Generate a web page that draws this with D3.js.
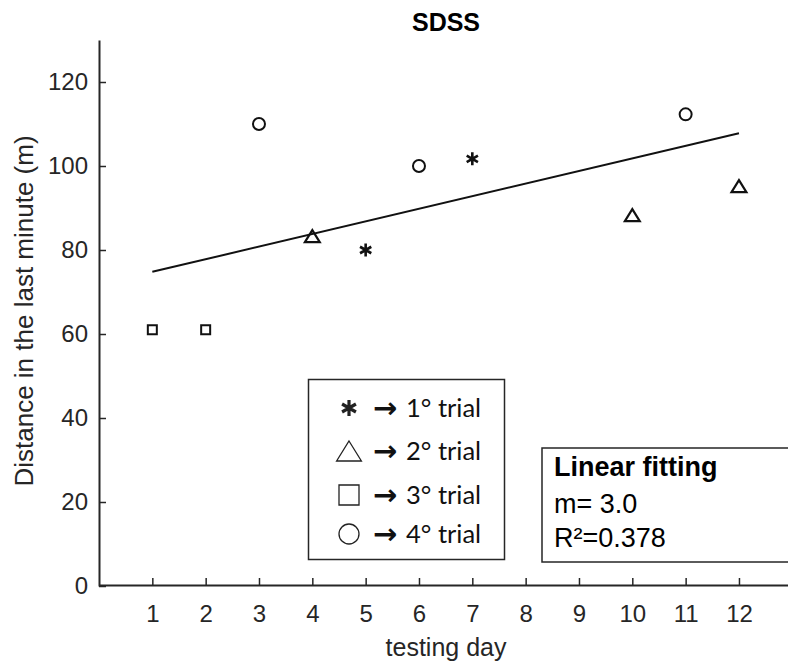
<!DOCTYPE html>
<html>
<head>
<meta charset="utf-8">
<script src="https://cdn.jsdelivr.net/npm/d3@7"></script>
<style>
  html, body { margin: 0; padding: 0; background: #fff; }
  svg { display: block; }
</style>
</head>
<body>
<svg id="chart" width="788" height="666"></svg>
<script>
// ---- data ----
const title = "SDSS";
const xLabel = "testing day";
const yLabel = "Distance in the last minute (m)";
const xTicks = [1, 2, 3, 4, 5, 6, 7, 8, 9, 10, 11, 12];
const yTicks = [0, 20, 40, 60, 80, 100, 120];

const trial1Days = [5, 7];
const trial1Dist = [80, 101.7];
const trial2Days = [4, 10, 12];
const trial2Dist = [83.3, 88.3, 95.2];
const trial3Days = [1, 2];
const trial3Dist = [61, 61];
const trial4Days = [3, 6, 11];
const trial4Dist = [110, 100, 112.3];

const fitSlope = 3.0;
const fitIntercept = 71.8;
const fitRange = [1, 12];

const legendLabels = ["1° trial", "2° trial", "3° trial", "4° trial"];
const legendShapes = ["star", "triangle", "square", "circle"];
const fitLines = ["Linear fitting", "m= 3.0", "R²=0.378"];

// ---- setup ----
const svg = d3.select("#chart");
const FONT = "'Liberation Sans', Arial, sans-serif";
const AX = "#262626";

const x = d3.scaleLinear().domain([0, 13]).range([99, 792.3]);
const y = d3.scaleLinear().domain([0, 130]).range([586, 40]);

// marker path generators (shape only, centred at 0,0)
function shapePath(shape, s) {
  const p = d3.path();
  if (shape === "circle") {
    p.arc(0, 0, s * 0.5, 0, 2 * Math.PI);
  } else if (shape === "square") {
    const h = s * 0.5;
    p.rect(-h, -h, s, s);
  } else if (shape === "triangle") {
    const w = s * 0.62, hh = s * 0.5;
    p.moveTo(0, -hh); p.lineTo(w, hh); p.lineTo(-w, hh); p.closePath();
  } else if (shape === "star") {
    const r = s * 0.5;
    for (let k = 0; k < 3; k++) {
      const a = Math.PI / 2 + k * Math.PI / 3;
      p.moveTo(r * Math.cos(a), r * Math.sin(a));
      p.lineTo(-r * Math.cos(a), -r * Math.sin(a));
    }
  }
  return p.toString();
}

// ---- axes ----
const gx = svg.append("g")
  .attr("transform", `translate(0,${y(0) - 1})`)
  .call(d3.axisBottom(x).tickValues(xTicks).tickSizeInner(-7).tickSizeOuter(0).tickPadding(20));
const gy = svg.append("g")
  .attr("transform", `translate(${x(0)},0)`)
  .call(d3.axisLeft(y).tickValues(yTicks).tickSizeInner(-7).tickSizeOuter(0).tickPadding(11));

[gx, gy].forEach(g => {
  g.select(".domain").attr("stroke", AX).attr("stroke-width", 2);
  g.selectAll(".tick line").attr("stroke", AX).attr("stroke-width", 1.5);
  g.selectAll(".tick text").attr("fill", AX).style("font-family", FONT).style("font-size", "24px");
});
gx.select(".domain").attr("d", `M${x(0)},0.5H${x(13) + 10}`);

// axis labels & title
svg.append("text")
  .attr("x", 446).attr("y", 656)
  .attr("text-anchor", "middle")
  .attr("fill", AX)
  .style("font-family", FONT).style("font-size", "25px")
  .text(xLabel);

svg.append("text")
  .attr("transform", "translate(33,311) rotate(-90)")
  .attr("text-anchor", "middle")
  .attr("fill", AX)
  .style("font-family", FONT).style("font-size", "26px")
  .text(yLabel);

svg.append("text")
  .attr("x", 446).attr("y", 31)
  .attr("text-anchor", "middle")
  .attr("fill", "#000")
  .style("font-family", FONT).style("font-size", "25px").style("font-weight", "bold")
  .text(title);

// ---- fit line ----
const fitLine = d3.line().x(d => x(d)).y(d => y(fitIntercept + fitSlope * d));
svg.append("path")
  .attr("d", fitLine(fitRange))
  .attr("fill", "none").attr("stroke", "#111").attr("stroke-width", 2);

// ---- points ----
const series = [
  { shape: "star", days: trial1Days, dist: trial1Dist, size: 13, sw: 2.6 },
  { shape: "triangle", days: trial2Days, dist: trial2Dist, size: 12, sw: 2.2 },
  { shape: "square", days: trial3Days, dist: trial3Dist, size: 9, sw: 2 },
  { shape: "circle", days: trial4Days, dist: trial4Dist, size: 12, sw: 2 }
];
series.forEach(s => {
  svg.append("g").selectAll("path")
    .data(s.days.map((d, i) => [d, s.dist[i]]))
    .join("path")
    .attr("transform", d => `translate(${x(d[0])},${y(d[1])})`)
    .attr("d", shapePath(s.shape, s.size))
    .attr("fill", "none").attr("stroke", "#111").attr("stroke-width", s.sw)
    .attr("stroke-linejoin", "miter");
});

// ---- legend ----
const lg = svg.append("g");
lg.append("rect")
  .attr("x", 308.5).attr("y", 379.5).attr("width", 196).attr("height", 180)
  .attr("fill", "#fff").attr("stroke", AX).attr("stroke-width", 1.5);
const rowY = [408, 451, 495, 534];
legendLabels.forEach((lab, i) => {
  const sh = legendShapes[i];
  lg.append("path")
    .attr("transform", `translate(349,${rowY[i]})`)
    .attr("d", shapePath(sh, sh === "star" ? 16 : 20))
    .attr("fill", "none").attr("stroke", "#222")
    .attr("stroke-width", sh === "star" ? 3.2 : 1.3);
  lg.append("text")
    .attr("x", 373).attr("y", rowY[i]).attr("dy", "0.34em")
    .attr("fill", "#111")
    .style("font-family", "'DejaVu Sans', sans-serif").style("font-size", "29px").style("font-weight", "bold")
    .text("→");
  lg.append("text")
    .attr("x", 406).attr("y", rowY[i]).attr("dy", "0.36em")
    .attr("fill", "#111")
    .style("font-family", "Lato, 'Open Sans', sans-serif").style("font-size", "25.5px")
    .text(lab);
});

// ---- fit annotation ----
const ann = svg.append("g");
ann.append("rect")
  .attr("x", 542).attr("y", 448).attr("width", 260).attr("height", 114)
  .attr("fill", "#fff").attr("stroke", AX).attr("stroke-width", 1.5);
const annY = [476, 513, 547];
fitLines.forEach((t, i) => {
  ann.append("text")
    .attr("x", 554).attr("y", annY[i])
    .attr("fill", "#000")
    .style("font-family", FONT).style("font-size", "27px")
    .style("font-weight", i === 0 ? "bold" : "normal")
    .text(t);
});
</script>
</body>
</html>
